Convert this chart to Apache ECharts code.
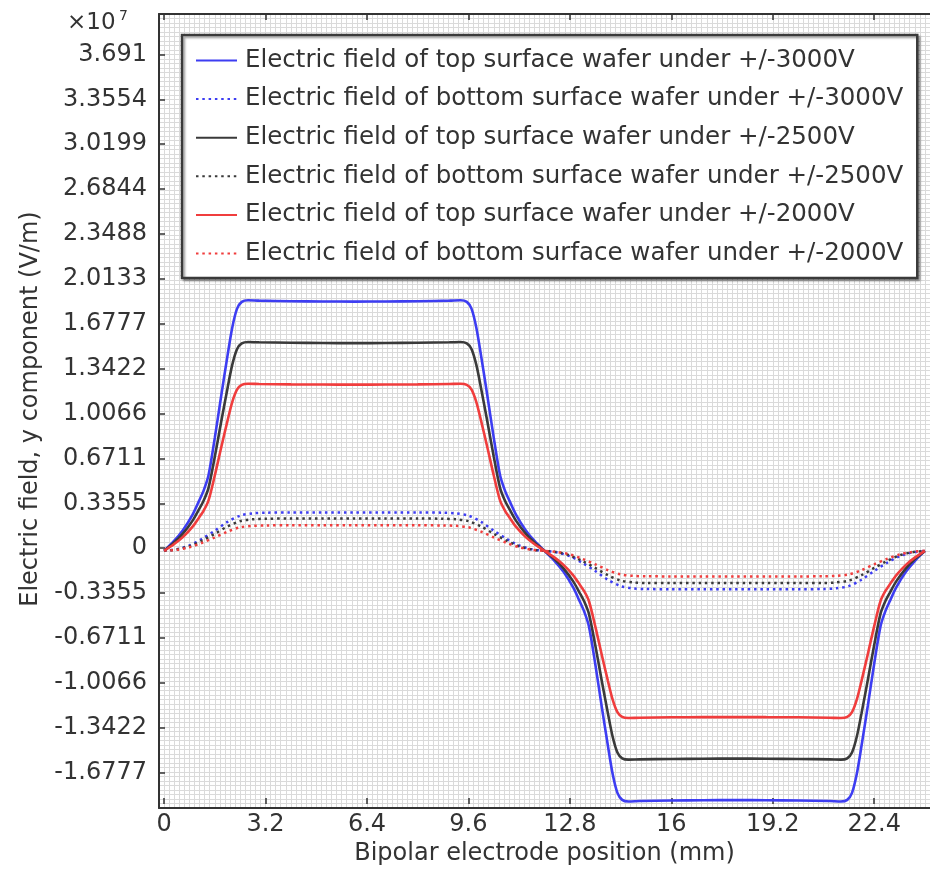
<!DOCTYPE html>
<html>
<head>
<meta charset="utf-8">
<script src="https://cdn.jsdelivr.net/npm/echarts@6/dist/echarts.min.js"></script>
<style>
  html, body { margin: 0; padding: 0; background: #ffffff; }
  #chart { width: 930px; height: 871px; }
</style>
</head>
<body>
<div id="chart"></div>
<script>
// Tick labels (y values are in units of 1e7 V/m)
const xTickLabels = ['0', '3.2', '6.4', '9.6', '12.8', '16', '19.2', '22.4'];
const yTickLabels = ['-1.6777', '-1.3422', '-1.0066', '-0.6711', '-0.3355', '0',
  '0.3355', '0.6711', '1.0066', '1.3422', '1.6777', '2.0133', '2.3488',
  '2.6844', '3.0199', '3.3554', '3.691'];

const seriesNames = [
  'Electric field of top surface wafer under +/-3000V',
  'Electric field of bottom surface wafer under +/-3000V',
  'Electric field of top surface wafer under +/-2500V',
  'Electric field of bottom surface wafer under +/-2500V',
  'Electric field of top surface wafer under +/-2000V',
  'Electric field of bottom surface wafer under +/-2000V'
];

// Positions along the electrode (mm)
const xTop = [0, 0.3, 0.6, 0.9, 1.1, 1.25, 1.4, 1.6, 1.8, 2.0, 2.15, 2.3, 2.45, 2.65,
  3.0, 4.0, 5.0, 6.0, 7.0, 8.0, 9.0, 9.35, 9.55, 9.7, 9.85, 10.0, 10.2, 10.4, 10.6,
  10.75, 10.9, 11.1, 11.4, 11.7, 12.0,
  12.3, 12.6, 12.9, 13.1, 13.25, 13.4, 13.6, 13.8, 14.0, 14.15, 14.3, 14.45, 14.65,
  15.0, 16.0, 17.0, 18.0, 19.0, 20.0, 21.0, 21.35, 21.55, 21.7, 21.85, 22.0, 22.2,
  22.4, 22.6, 22.75, 22.9, 23.1, 23.4, 23.7, 24.0];
const xBottom = [0, 0.4, 0.8, 1.2, 1.6, 2.0, 2.4, 2.8, 3.2, 4, 5, 6, 7, 8, 8.8, 9.2,
  9.6, 10.0, 10.4, 10.8, 11.2, 11.6, 12.0, 12.4, 12.8, 13.2, 13.6, 14.0, 14.4, 14.8,
  15.2, 16, 17, 18, 19, 20, 20.8, 21.2, 21.6, 22.0, 22.4, 22.8, 23.2, 23.6, 24.0];

// Field, top surface (x1e7 V/m)
const top3000 = [0, 0.07, 0.156, 0.27, 0.37, 0.45, 0.56, 0.84, 1.15, 1.45, 1.66, 1.80,
  1.852, 1.864, 1.861, 1.857, 1.855, 1.854, 1.855, 1.857, 1.861, 1.864, 1.852, 1.80,
  1.66, 1.45, 1.15, 0.84, 0.56, 0.45, 0.37, 0.27, 0.156, 0.07, 0,
  -0.07, -0.156, -0.27, -0.37, -0.45, -0.56, -0.84, -1.15, -1.45, -1.66, -1.80, -1.852,
  -1.864, -1.861, -1.857, -1.855, -1.854, -1.855, -1.857, -1.861, -1.864, -1.852,
  -1.80, -1.66, -1.45, -1.15, -0.84, -0.56, -0.45, -0.37, -0.27, -0.156, -0.07, 0];
const top2500 = [0, 0.058, 0.13, 0.225, 0.308, 0.375, 0.467, 0.70, 0.958, 1.208,
  1.383, 1.50, 1.543, 1.553, 1.551, 1.548, 1.546, 1.545, 1.546, 1.548, 1.551, 1.553,
  1.543, 1.50, 1.383, 1.208, 0.958, 0.70, 0.467, 0.375, 0.308, 0.225, 0.13, 0.058, 0,
  -0.058, -0.13, -0.225, -0.308, -0.375, -0.467, -0.70, -0.958, -1.208, -1.383,
  -1.50, -1.543, -1.553, -1.551, -1.548, -1.546, -1.545, -1.546, -1.548, -1.551,
  -1.553, -1.543, -1.50, -1.383, -1.208, -0.958, -0.70, -0.467, -0.375, -0.308,
  -0.225, -0.13, -0.058, 0];
const top2000 = [0, 0.047, 0.104, 0.18, 0.247, 0.30, 0.373, 0.56, 0.767, 0.967, 1.107,
  1.20, 1.235, 1.243, 1.241, 1.238, 1.237, 1.236, 1.237, 1.238, 1.241, 1.243, 1.235,
  1.20, 1.107, 0.967, 0.767, 0.56, 0.373, 0.30, 0.247, 0.18, 0.104, 0.047, 0,
  -0.047, -0.104, -0.18, -0.247, -0.30, -0.373, -0.56, -0.767, -0.967, -1.107, -1.20,
  -1.235, -1.243, -1.241, -1.238, -1.237, -1.236, -1.237, -1.238, -1.241, -1.243,
  -1.235, -1.20, -1.107, -0.967, -0.767, -0.56, -0.373, -0.30, -0.247, -0.18,
  -0.104, -0.047, 0];

// Field, bottom surface (x1e7 V/m)
const bottom3000 = [0, 0.012, 0.04, 0.09, 0.15, 0.215, 0.262, 0.279, 0.284, 0.285,
  0.285, 0.285, 0.285, 0.285, 0.284, 0.279, 0.262, 0.215, 0.15, 0.09, 0.04, 0.012, 0,
  -0.012, -0.04, -0.09, -0.15, -0.215, -0.262, -0.279, -0.284, -0.285, -0.285, -0.285,
  -0.285, -0.285, -0.284, -0.279, -0.262, -0.215, -0.15, -0.09, -0.04, -0.012, 0];
const bottom2500 = [0, 0.01, 0.034, 0.076, 0.127, 0.181, 0.221, 0.235, 0.239, 0.24,
  0.24, 0.24, 0.24, 0.24, 0.239, 0.235, 0.221, 0.181, 0.127, 0.076, 0.034, 0.01, 0,
  -0.01, -0.034, -0.076, -0.127, -0.181, -0.221, -0.235, -0.239, -0.24, -0.24, -0.24,
  -0.24, -0.24, -0.239, -0.235, -0.221, -0.181, -0.127, -0.076, -0.034, -0.01, 0];
const bottom2000 = [0, 0.008, 0.027, 0.06, 0.1, 0.143, 0.175, 0.186, 0.189, 0.19,
  0.19, 0.19, 0.19, 0.19, 0.189, 0.186, 0.175, 0.143, 0.1, 0.06, 0.027, 0.008, 0,
  -0.008, -0.027, -0.06, -0.1, -0.143, -0.175, -0.186, -0.189, -0.19, -0.19, -0.19,
  -0.19, -0.19, -0.189, -0.186, -0.175, -0.143, -0.1, -0.06, -0.027, -0.008, 0];

const FONT = '"DejaVu Sans", sans-serif';
const INK = '#333333';
const GRID_LINE = '#dadada';
const BLUE = '#3d3df2';
const BLACK = '#3a3a3a';
const RED = '#f03d3d';

// Axis extents: fine grid every 1/10 of a major y step and every 0.16 mm in x
const yMajor = 0.335545;
const yMinor = yMajor / 10;
const yMin = -57 * yMinor;
const yMax = 119 * yMinor;
const xMinor = 0.16;
const xMin = -xMinor;
const xMax = 151 * xMinor;

const xTickValues = xTickLabels.map(Number);
const yTickValues = yTickLabels.map(Number);

function pairs(xs, ys) { return xs.map((x, i) => [x, ys[i]]); }

const gridBox = { left: 159, top: 14, width: 774, height: 794 };

function solid(name, color, xs, ys) {
  return {
    name, type: 'line', xAxisIndex: 0, yAxisIndex: 0, data: pairs(xs, ys),
    symbol: 'none', smooth: 0.3, z: 5,
    lineStyle: { color, width: 2.6 }, itemStyle: { color }
  };
}
function dotted(name, color, xs, ys) {
  return {
    name, type: 'line', xAxisIndex: 0, yAxisIndex: 0, data: pairs(xs, ys),
    symbol: 'none', smooth: 0.3, z: 4,
    lineStyle: { color, width: 2.5, type: [2.5, 3.8] }, itemStyle: { color }
  };
}

const chart = echarts.init(document.getElementById('chart'), null, { renderer: 'canvas' });
chart.setOption({
  animation: false,
  backgroundColor: '#ffffff',
  textStyle: { fontFamily: FONT },
  grid: [
    Object.assign({ show: true, backgroundColor: '#ffffff', borderWidth: 0 }, gridBox),
    Object.assign({}, gridBox)
  ],
  xAxis: [
    {
      gridIndex: 0, type: 'value', min: xMin, max: xMax, interval: xMinor,
      axisLine: { show: true, onZero: false, lineStyle: { color: INK, width: 2 } },
      axisTick: { show: false }, axisLabel: { show: false },
      splitLine: { show: true, lineStyle: { color: GRID_LINE, width: 1 } }
    },
    {
      gridIndex: 1, type: 'value', min: xMin, max: xMax, position: 'bottom',
      axisLine: { show: false, onZero: false },
      axisTick: { show: true, inside: true, length: 6, customValues: xTickValues,
        lineStyle: { color: INK, width: 1.5 } },
      axisLabel: { customValues: xTickValues, color: INK, fontSize: 24, margin: 9,
        fontFamily: FONT,
        formatter: v => xTickLabels[xTickValues.indexOf(v)] },
      splitLine: { show: false },
      name: 'Bipolar electrode position (mm)', nameLocation: 'middle', nameGap: 37,
      nameTextStyle: { color: INK, fontSize: 24, fontFamily: FONT }
    },
    {
      gridIndex: 1, type: 'value', min: xMin, max: xMax, position: 'top',
      axisLine: { show: true, onZero: false, lineStyle: { color: INK, width: 2 } },
      axisTick: { show: true, inside: true, length: 6, customValues: xTickValues,
        lineStyle: { color: INK, width: 1.5 } },
      axisLabel: { show: false }, splitLine: { show: false }
    }
  ],
  yAxis: [
    {
      gridIndex: 0, type: 'value', min: yMin, max: yMax, interval: yMinor,
      axisLine: { show: true, onZero: false, lineStyle: { color: INK, width: 2 } },
      axisTick: { show: false }, axisLabel: { show: false },
      splitLine: { show: true, lineStyle: { color: GRID_LINE, width: 1 } }
    },
    {
      gridIndex: 1, type: 'value', min: yMin, max: yMax, position: 'left',
      axisLine: { show: false, onZero: false },
      axisTick: { show: true, inside: true, length: 6, customValues: yTickValues,
        lineStyle: { color: INK, width: 1.5 } },
      axisLabel: { customValues: yTickValues, color: INK, fontSize: 24, margin: 12,
        fontFamily: FONT,
        formatter: v => yTickLabels[yTickValues.indexOf(v)] },
      splitLine: { show: false },
      name: 'Electric field, y component (V/m)', nameLocation: 'middle', nameGap: 116,
      nameRotate: 90,
      nameTextStyle: { color: INK, fontSize: 24, fontFamily: FONT }
    }
  ],
  legend: {
    orient: 'vertical', left: 182, top: 35,
    padding: [13, 14, 12, 13],
    itemWidth: 41, itemHeight: 24, itemGap: 13.6,
    backgroundColor: '#ffffff', borderColor: '#3a3a3a', borderWidth: 2.5,
    shadowColor: 'rgba(0,0,0,0.35)', shadowBlur: 2, shadowOffsetX: 2, shadowOffsetY: 2,
    itemStyle: { opacity: 0 },
    textStyle: { color: INK, fontSize: 24.5, lineHeight: 24, fontFamily: FONT,
      padding: [0, 0, 0, 3] },
    data: seriesNames
  },
  graphic: [
    { type: 'text', left: 67, top: 12, style: { text: '×10', font: '23px ' + FONT, fill: INK } },
    { type: 'text', left: 119, top: 9, style: { text: '7', font: '14px ' + FONT, fill: INK } }
  ],
  series: [
    solid(seriesNames[0], BLUE, xTop, top3000),
    dotted(seriesNames[1], BLUE, xBottom, bottom3000),
    solid(seriesNames[2], BLACK, xTop, top2500),
    dotted(seriesNames[3], BLACK, xBottom, bottom2500),
    solid(seriesNames[4], RED, xTop, top2000),
    dotted(seriesNames[5], RED, xBottom, bottom2000)
  ]
});
</script>
</body>
</html>
